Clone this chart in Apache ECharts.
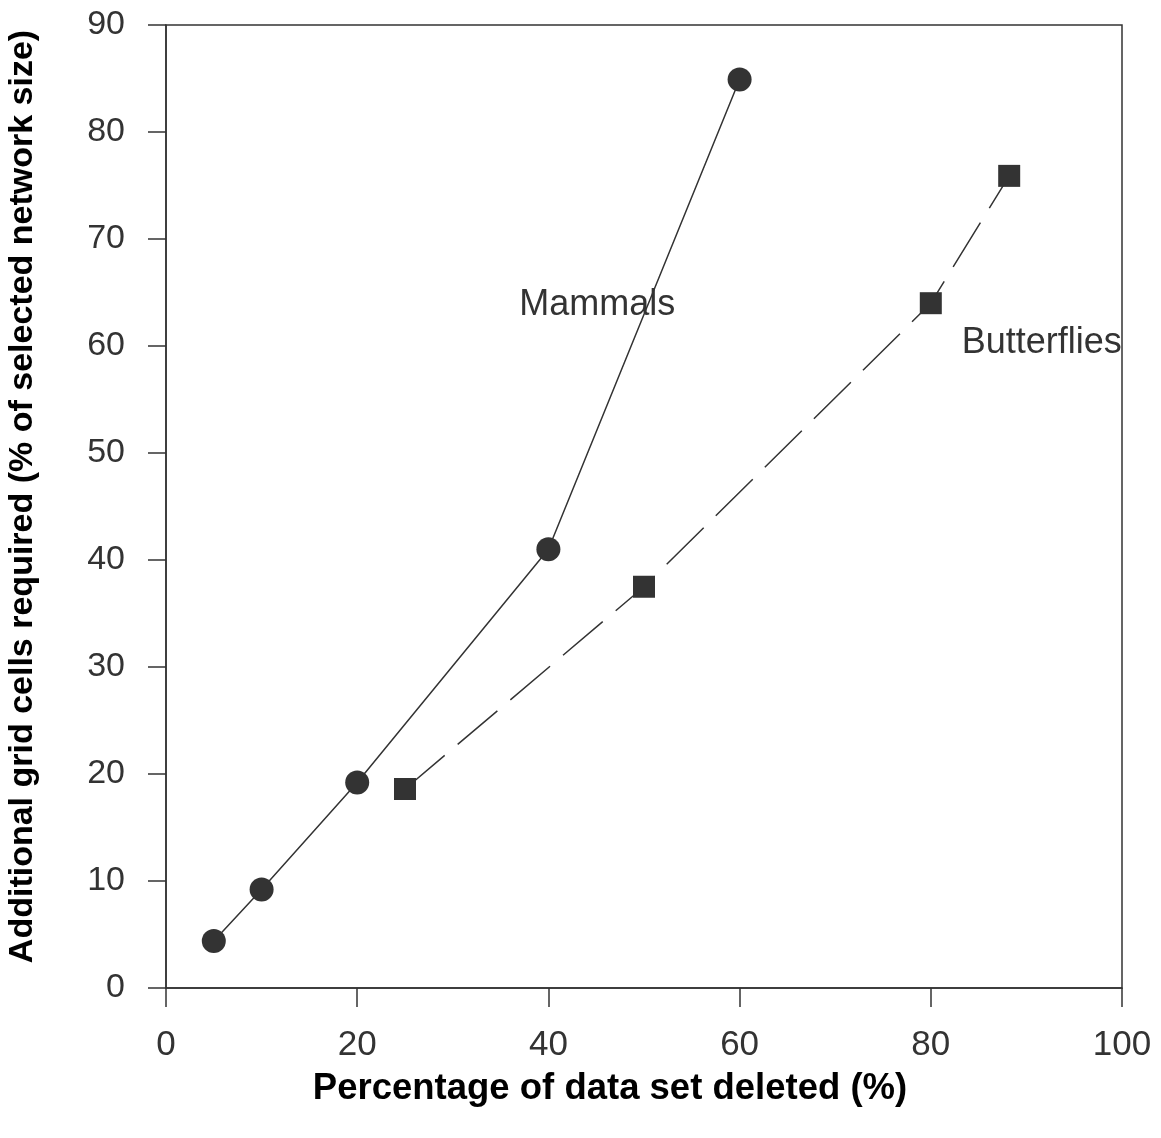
<!DOCTYPE html>
<html><head><meta charset="utf-8">
<script src="https://cdn.jsdelivr.net/npm/echarts@6/dist/echarts.min.js"></script>
<style>html,body{margin:0;padding:0;background:#fff}#c{width:1161px;height:1138px}</style>
</head><body><div id="c"></div>
<script>
const mammalsX = [5, 10, 20, 40, 60];
const mammalsY = [4.4, 9.2, 19.2, 41.0, 84.9];
const butterfliesX = [25, 50, 80, 88.2];
const butterfliesY = [18.6, 37.5, 64.0, 75.9];
const mammalsLabel = {name: 'Mammals', x: 45.1, y: 63.8};
const butterfliesLabel = {name: 'Butterflies', x: 91.6, y: 60.3};
const xTitle = 'Percentage of data set deleted (%)';
const yTitle = 'Additional grid cells required (% of selected network size)';

const ink = '#333';
const font = '"Liberation Sans", Arial, sans-serif';
const chart = echarts.init(document.getElementById('c'));
function pairs(xs, ys){ return xs.map((x,i)=>[x, ys[i]]); }
function textPoint(l){
  return {data:[{coord:[l.x,l.y], value:l.name}], symbol:'circle', symbolSize:0, silent:true,
    label:{show:true, position:'inside', formatter:l.name, color:ink, fontSize:36, fontFamily:font}};
}
chart.setOption({
  animation:false,
  grid:{left:166, right:39, top:25, bottom:150, outerBoundsMode:'none', containLabel:false,
    show:true, borderColor:ink, borderWidth:1.5, backgroundColor:'transparent'},
  xAxis:{type:'value', min:0, max:100, interval:20,
    name:xTitle, nameLocation:'middle', nameGap:82,
    nameTextStyle:{fontSize:36.5, fontWeight:'bold', color:'#000', fontFamily:font, padding:[0,68,0,0]},
    axisLine:{show:true, onZero:false, lineStyle:{color:ink, width:1.5}},
    axisTick:{show:true, length:19, lineStyle:{color:ink, width:1.5}},
    axisLabel:{fontSize:35, color:ink, margin:40, fontFamily:font},
    splitLine:{show:false}},
  yAxis:{type:'value', min:0, max:90, interval:10,
    name:yTitle, nameLocation:'middle', nameGap:126, nameRotate:90,
    nameTextStyle:{fontSize:34, fontWeight:'bold', color:'#000', fontFamily:font, padding:[0,0,0,20]},
    axisLine:{show:true, onZero:false, lineStyle:{color:ink, width:1.5}},
    axisTick:{show:true, length:18, lineStyle:{color:ink, width:1.5}},
    axisLabel:{fontSize:34, color:ink, margin:41, fontFamily:font},
    splitLine:{show:false}},
  series:[
    {type:'line', name:'Mammals', data:pairs(mammalsX, mammalsY),
     symbol:'circle', symbolSize:24, itemStyle:{color:ink},
     lineStyle:{color:ink, width:1.5}, markPoint:textPoint(mammalsLabel)},
    {type:'line', name:'Butterflies', data:pairs(butterfliesX, butterfliesY),
     symbol:'rect', symbolSize:22, itemStyle:{color:ink},
     lineStyle:{color:ink, width:1.5, type:[52,17]}, markPoint:textPoint(butterfliesLabel)}
  ]
});
</script></body></html>
